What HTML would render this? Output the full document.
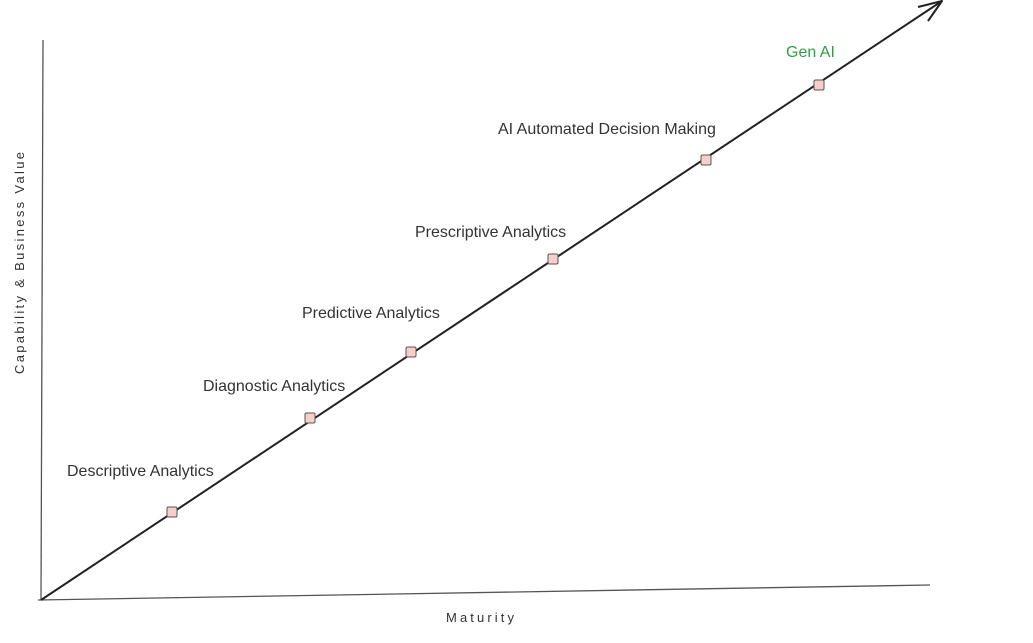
<!DOCTYPE html>
<html><head><meta charset="utf-8"><style>
html,body{margin:0;padding:0;background:#fff;}
svg{display:block;}
text{font-family:"Liberation Sans",sans-serif;}
</style></head><body>
<svg id="c" width="1033" height="643" viewBox="0 0 1033 643">
  <line x1="43" y1="40" x2="41" y2="600" stroke="#555" stroke-width="1.3"/>
  <line x1="38" y1="600" x2="930" y2="585" stroke="#555" stroke-width="1.3"/>
  <line x1="41" y1="600" x2="942" y2="1" stroke="#222" stroke-width="2"/>
  <path d="M918 7 L942 1 L928 21" fill="none" stroke="#222" stroke-width="2" stroke-linejoin="round"/>
  <text x="480" y="622" font-size="13" fill="#333" text-anchor="middle" textLength="68">Maturity</text>
  <text transform="translate(24,263) rotate(-90)" font-size="13" fill="#333" text-anchor="middle" textLength="222">Capability &amp; Business Value</text>
  <g id="marks"></g>
</svg>
<script>
const stages = ["Descriptive Analytics","Diagnostic Analytics","Predictive Analytics","Prescriptive Analytics","AI Automated Decision Making","Gen AI"];
const maturity = [131, 269, 370, 512, 665, 778];
const capability = [88, 182, 248, 341, 440, 515];
const labelX = [67, 203, 302, 415, 498, 786];
const labelY = [124, 209, 282, 363, 466, 543];
function xs(v){return 41+v;}
function ys(v){return 600-v;}
const ns="http://www.w3.org/2000/svg", g=document.getElementById('marks');
for(let i=0;i<stages.length;i++){
  const r=document.createElementNS(ns,'rect');
  r.setAttribute('x',xs(maturity[i])-5);r.setAttribute('y',ys(capability[i])-5);
  r.setAttribute('width',10);r.setAttribute('height',10);r.setAttribute('rx',1.5);
  r.setAttribute('fill','#f8cecc');r.setAttribute('stroke','#555');r.setAttribute('stroke-width','1');
  
  
  g.appendChild(r);
  const t=document.createElementNS(ns,'text');
  t.setAttribute('x',xs(labelX[i]-41));t.setAttribute('y',ys(labelY[i]));
  t.setAttribute('font-size','16');
  t.setAttribute('fill', i===stages.length-1 ? '#2ea043' : '#333');
  t.textContent=stages[i];
  
  
  g.appendChild(t);
}
</script>
</body></html>
